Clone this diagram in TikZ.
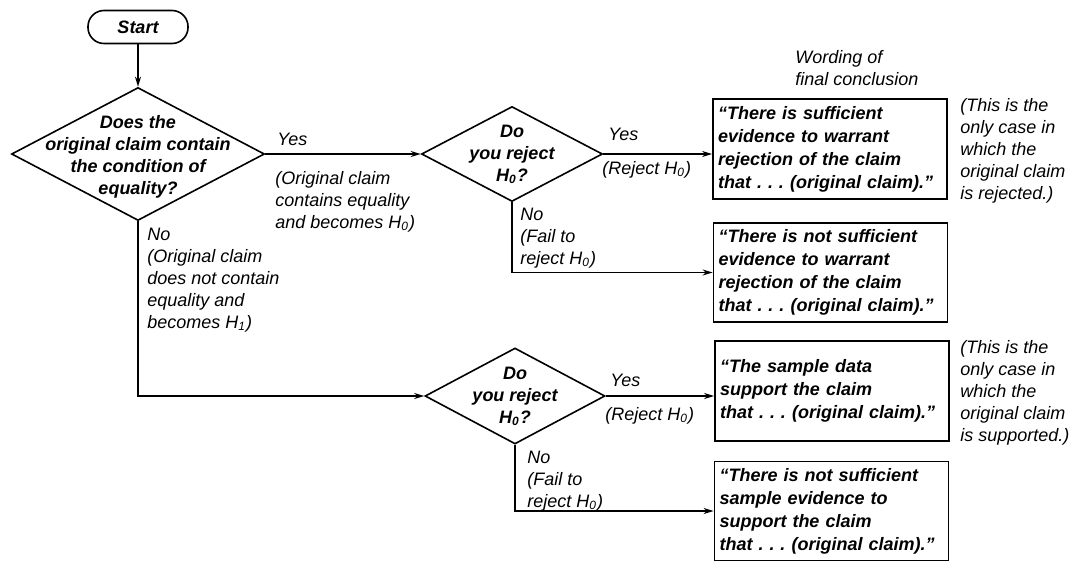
\documentclass[tikz,border=0pt]{standalone}
\usepackage{fontspec}
\setmainfont{Liberation Sans}
\usetikzlibrary{shapes.geometric,arrows.meta}

\tikzset{
  every node/.style={font=\fontsize{9}{11}\selectfont\itshape},
  decision/.style={draw,diamond,line width=0.8pt,inner sep=0pt},
  question/.style={align=center,inner sep=0pt,
    font=\fontsize{9}{11}\selectfont\itshape\bfseries},
  verdict/.style={draw,rectangle,line width=0.9pt,minimum width=117pt,
    text width=112pt,inner xsep=2.5pt,align=left,
    font=\fontsize{9}{11.5}\selectfont\itshape\bfseries\frenchspacing},
  remark/.style={align=left,inner sep=0pt,anchor=north west},
  arr/.style={line width=0.8pt,-{Stealth[length=5pt,width=3pt]}}
}

\begin{document}
\begin{tikzpicture}[x=0.5pt,y=-0.5pt]
  \useasboundingbox (0,0) rectangle (1090,562);

  % Start
  \node[draw,line width=0.8pt,rounded corners=8pt,minimum width=50pt,
    minimum height=16.5pt,inner sep=0pt,font=\fontsize{9}{11}\selectfont\itshape\bfseries]
    (start) at (138,27) {Start};

  % Decision: equality in claim?
  \node[decision,minimum width=126.5pt,minimum height=66.5pt] (q1) at (138,154) {};
  \node[question] (q1t) at (138,157) {Does the\\original claim contain\\the condition of\\equality?};

  % Decision: reject H0 (upper)
  \node[decision,minimum width=90.5pt,minimum height=47.5pt] (q2) at (512,154) {};
  \node[question] (q2t) at (512,154) {Do\\you reject\\H\textsubscript{0}?};

  % Decision: reject H0 (lower)
  \node[decision,minimum width=90pt,minimum height=48pt] (q3) at (515,396) {};
  \node[question] (q3t) at (515,396) {Do\\you reject\\H\textsubscript{0}?};

  % Conclusions
  \node[verdict,minimum height=50pt] (c1) at (830,149)
    {“There is sufficient\\evidence to warrant\\rejection of the claim\\that . . . (original claim).”};
  \node[verdict,minimum height=49.5pt] (c2) at (830.5,272.5)
    {“There is not sufficient\\evidence to warrant\\rejection of the claim\\that . . . (original claim).”};
  \node[verdict,minimum height=50pt] (c3) at (832,391)
    {“The sample data\\support the claim\\that . . . (original claim).”};
  \node[verdict,minimum height=49pt] (c4) at (831.5,511)
    {“There is not sufficient\\sample evidence to\\support the claim\\that . . . (original claim).”};

  % Connectors
  \draw[arr] (start) -- (q1);
  \draw[arr] (q1.east) -- (q2.west);
  \draw[arr] (q2.east) -- (q2.east -| c1.west);
  \draw[arr] (q2.south) |- (c2.west);
  \draw[arr] (q1.south) |- (q3.west);
  \draw[arr] (q3.east) -- (q3.east -| c3.west);
  \draw[arr] (q3.south) |- (c4.west);

  % Labels on the branches
  \node[remark] (yes1) at (277,133) {Yes};
  \node[remark] (yes1n) at (275,171) {(Original claim\\contains equality\\and becomes H\textsubscript{0})};
  \node[remark] (no1) at (147,228) {No\\(Original claim\\does not contain\\equality and\\becomes H\textsubscript{1})};
  \node[remark] (yes2) at (608,128) {Yes};
  \node[remark] (yes2n) at (602,161) {(Reject H\textsubscript{0})};
  \node[remark] (no2) at (520,208) {No\\(Fail to\\reject H\textsubscript{0})};
  \node[remark] (yes3) at (610,374) {Yes};
  \node[remark] (yes3n) at (605,407) {(Reject H\textsubscript{0})};
  \node[remark] (no3) at (527,451) {No\\(Fail to\\reject H\textsubscript{0})};

  % Side notes
  \node[remark] (head) at (795,50) {Wording of\\final conclusion};
  \node[remark] (note1) at (960,98) {(This is the\\only case in\\which the\\original claim\\is rejected.)};
  \node[remark] (note2) at (960,340) {(This is the\\only case in\\which the\\original claim\\is supported.)};
\end{tikzpicture}
\end{document}
